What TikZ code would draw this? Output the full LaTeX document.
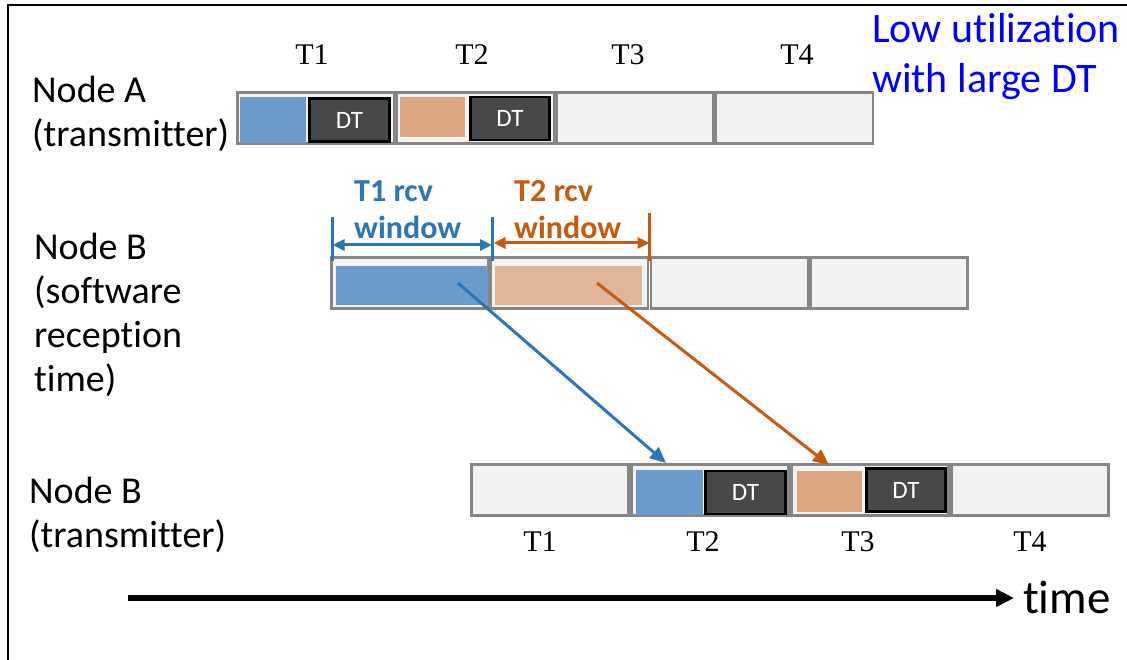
\documentclass[tikz,border=0pt]{standalone}
\usepackage{fontspec}
\setmainfont{Carlito}[Ligatures=NoCommon]
\newfontfamily\serifT{Liberation Serif}
\usetikzlibrary{arrows.meta,positioning}
\definecolor{slotgray}{HTML}{F2F2F2}
\definecolor{slotline}{HTML}{868686}
\definecolor{dtgray}{HTML}{484848}
\definecolor{pktblue}{HTML}{6A9BCB}
\definecolor{pktorange}{HTML}{DCA682}
\definecolor{winorange}{HTML}{E1B598}
\definecolor{rcvblue}{HTML}{2E75B6}
\definecolor{rcvorange}{HTML}{C55A11}
\begin{document}
\begin{tikzpicture}[x=1pt,y=-1pt,
  cell/.style={draw=slotline,line width=2.5pt,fill=slotgray,minimum width=157pt,minimum height=51pt,anchor=north west,inner sep=0pt,outer sep=0pt},
  pkt/.style={inner sep=0pt,outer sep=0pt},
  dtbox/.style={draw=black,line width=2.5pt,fill=dtgray,text=white,font=\fontsize{25}{25}\selectfont,inner sep=0pt,minimum width=80pt,minimum height=43pt},
  slotlbl/.style={font=\serifT\fontsize{30}{30}\selectfont,inner sep=0pt},
  nodelbl/.style={font=\fontsize{38}{44}\selectfont,align=left,anchor=west,inner sep=0pt},
  rcvlbl/.style={font=\bfseries\fontsize{32}{37}\selectfont,align=left,anchor=west,inner sep=0pt},
  tick/.style={line width=3pt},
  span/.style={line width=3pt,{Triangle[length=12pt,width=11pt]}-{Triangle[length=12pt,width=11pt]}},
  hop/.style={line width=3pt,-{Triangle[length=16pt,width=14pt]}}]
\useasboundingbox (0,0) rectangle (1127,660);
\draw[line width=2pt] (8,660) -- (8,5) -- (1127,5);

% Node A: transmitting slots
\foreach \i in {1,...,4}
  \node[cell] (a\i) at ({237.5+159.5*(\i-1)},92.5) {};
\node[pkt,fill=pktblue,minimum width=66pt,minimum height=46pt] (pa1) at (273,120) {};
\node[dtbox] (dta1) at (349.5,120) {DT};
\node[pkt,fill=pktorange,minimum width=65pt,minimum height=40pt] (pa2) at (432.5,117) {};
\node[dtbox,minimum width=79pt] (dta2) at (510,118.5) {DT};
\node[slotlbl] at (312,55) {T1};
\node[slotlbl] at (472,55) {T2};
\node[slotlbl] at (628,55) {T3};
\node[slotlbl] at (797,55) {T4};
\node[nodelbl] (lblA) at (32,114) {Node A\\(transmitter)};
\node[font=\fontsize{42}{50}\selectfont,text=blue,align=left,anchor=west,inner sep=0pt] (note) at (872,57) {Low utilization\\with large DT};

% Node B: software reception windows
\foreach \i in {1,...,4}
  \node[cell] (b\i) at ({331.5+159.7*(\i-1)},257.5) {};
\node[pkt,fill=pktblue,minimum width=152pt,minimum height=39pt] (pb1) at (412,285.5) {};
\node[pkt,fill=winorange,minimum width=147pt,minimum height=39pt] (pb2) at (568.5,285.5) {};
\node[nodelbl] (lblB) at (34,315) {Node B\\(software\\reception\\time)};

\coordinate (w0) at (332.5,217);
\coordinate (w1) at (492,217);
\coordinate (w2) at (649.5,213);
\draw[tick,rcvblue] (w0) -- ++(0,44);
\draw[tick,rcvblue] (w1) -- ++(0,44);
\draw[tick,rcvorange] (w2) -- ++(0,48);
\draw[span,rcvblue] ([yshift=-28pt]w0) -- ([yshift=-28pt]w1);
\draw[span,rcvorange] ([xshift=1.5pt,yshift=-26pt]w1) -- ([yshift=-30pt]w2);
\node[rcvlbl,text=rcvblue] (rcv1) at (354,210) {T1 rcv\\window};
\node[rcvlbl,text=rcvorange] (rcv2) at (514,210) {T2 rcv\\window};

% Node B: transmitting slots
\foreach \i in {1,...,4}
  \node[cell] (c\i) at ({471.5+160*(\i-1)},464.5) {};
\node[pkt,fill=pktblue,minimum width=67pt,minimum height=45pt] (pc2) at (669.5,492.5) {};
\node[dtbox] (dtc2) at (745.5,492.5) {DT};
\node[pkt,fill=pktorange,minimum width=65pt,minimum height=41pt] (pc3) at (829.5,491.5) {};
\node[dtbox,minimum width=79pt] (dtc3) at (906,490) {DT};
\node[slotlbl] at (540,542) {T1};
\node[slotlbl] at (703,542) {T2};
\node[slotlbl] at (858,542) {T3};
\node[slotlbl] at (1030,542) {T4};
\node[nodelbl] (lblC) at (29,515) {Node B\\(transmitter)};

% forwarding
\coordinate (f1) at (458,283);
\coordinate (g1) at (666,463);
\coordinate (f2) at (597,283);
\coordinate (g2) at (829,465);
\draw[hop,rcvblue] (f1) -- (g1);
\draw[hop,rcvorange] (f2) -- (g2);

% time axis
\node[font=\fontsize{47}{47}\selectfont,anchor=west,inner sep=0pt] (time) at (1023,598) {time};
\coordinate (t0) at (128,598);
\draw[line width=5.5pt,-{Triangle[length=18pt,width=17pt]}] (t0) -- ([xshift=-9pt]time.west);
\end{tikzpicture}
\end{document}
